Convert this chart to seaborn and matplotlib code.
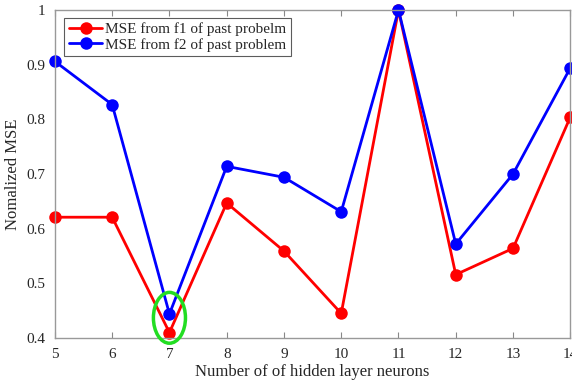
import matplotlib
matplotlib.use("Agg")
import matplotlib.pyplot as plt
import seaborn as sns
import pandas as pd
from matplotlib.patches import Ellipse

neurons = [5, 6, 7, 8, 9, 10, 11, 12, 13, 14]
mse_f1 = [0.621, 0.621, 0.410, 0.647, 0.559, 0.445, 1.0, 0.516, 0.564, 0.804]
mse_f2 = [0.906, 0.827, 0.444, 0.714, 0.694, 0.631, 1.0, 0.572, 0.700, 0.894]
labels = ["MSE from f1 of past probelm", "MSE from f2 of past problem"]
colors = ["#ff0000", "#0000ff"]

df = pd.DataFrame({
    "neurons": neurons * 2,
    "mse": mse_f1 + mse_f2,
    "series": [labels[0]] * len(neurons) + [labels[1]] * len(neurons),
})

sns.set_style("white")
plt.rcParams["font.family"] = ["Liberation Serif", "DejaVu Serif"]

fig = plt.figure(figsize=(5.72, 3.85), dpi=100)
ax = fig.add_axes([0.096, 0.122, 0.901, 0.852])

sns.lineplot(data=df, x="neurons", y="mse", hue="series", palette=colors,
             marker="o", markersize=9, markeredgewidth=0, linewidth=2,
             ax=ax, legend=True, clip_on=False)

ax.add_patch(Ellipse((7, 0.437), 0.56, 0.093, fill=False, edgecolor="#22dd22",
                     linewidth=2.5, zorder=5, clip_on=False))

ax.set_xlim(5, 14)
ax.set_ylim(0.4, 1.0)
ax.set_xticks(neurons)
ax.set_yticks([0.4, 0.5, 0.6, 0.7, 0.8, 0.9, 1.0])
ax.set_yticklabels(["0.4", "0.5", "0.6", "0.7", "0.8", "0.9", "1"])
ax.tick_params(direction="in", length=4, width=0.8, color="#888888", labelsize=11,
               top=True, right=False, bottom=True, left=False, pad=7)
for s in ax.spines.values():
    s.set_color("#999999")
    s.set_linewidth(1)

ax.set_xlabel("Number of of hidden layer neurons", fontsize=12, labelpad=2)
ax.set_ylabel("Nomalized MSE", fontsize=12, labelpad=4)

leg = ax.legend(loc="upper left", bbox_to_anchor=(0.012, 0.985), fontsize=11, frameon=True,
                fancybox=False, edgecolor="#333333", borderpad=0.3, handlelength=2.2,
                labelspacing=0.1, handletextpad=0.2, borderaxespad=0.2)
leg.get_frame().set_linewidth(0.8)

fig.savefig("out.png", dpi=100)
